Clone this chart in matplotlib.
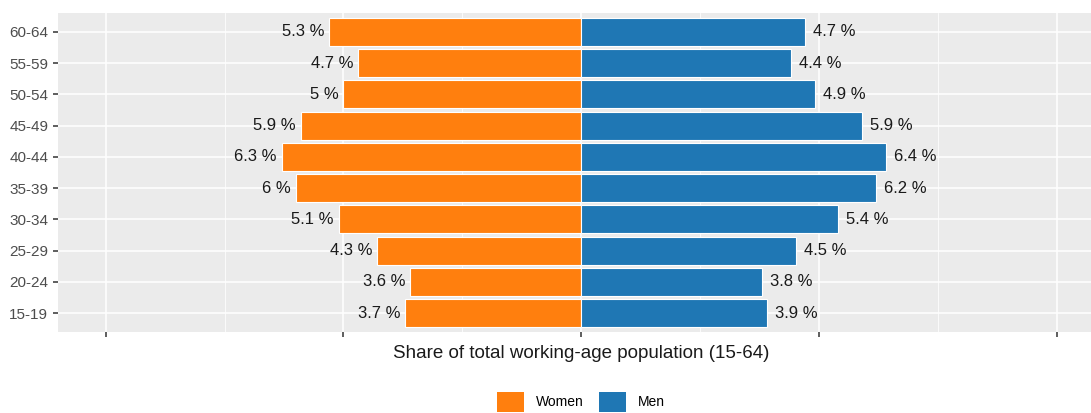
import numpy as np
import matplotlib.pyplot as plt
import matplotlib.transforms as mtransforms

# data
age_groups = ['15-19', '20-24', '25-29', '30-34', '35-39',
              '40-44', '45-49', '50-54', '55-59', '60-64']
women = [3.7, 3.6, 4.3, 5.1, 6.0, 6.3, 5.9, 5.0, 4.7, 5.3]
men = [3.9, 3.8, 4.5, 5.4, 6.2, 6.4, 5.9, 4.9, 4.4, 4.7]

plt.rcParams['font.family'] = ['Liberation Sans', 'DejaVu Sans']

fig = plt.figure(figsize=(10.91, 4.13), dpi=100)
ax = fig.add_axes([58 / 1091, 81 / 413, 1 - 58 / 1091, 319 / 413])
ax.set_facecolor('#EBEBEB')

y = np.arange(len(age_groups))
w = -np.array(women)
m = np.array(men)

ax.barh(y, w, height=0.9, color='#FF7F0E', edgecolor='white', linewidth=0.8,
        label='Women', zorder=3)
ax.barh(y, m, height=0.9, color='#1F77B4', edgecolor='white', linewidth=0.8,
        label='Men', zorder=3)

def fmt(v):
    return ('%g' % v) + ' %'

for yi, v in zip(y, women):
    ax.text(-v - 0.1, yi, fmt(v), ha='right', va='center', fontsize=12,
            color='#1A1A1A', zorder=4)
for yi, v in zip(y, men):
    ax.text(v + 0.17, yi, fmt(v), ha='left', va='center', fontsize=12,
            color='#1A1A1A', zorder=4)

# panel is symmetric (-11, 11) but the picture is cut at the right
ax.set_xlim(-11, 10.71)
ax.set_ylim(-0.6, 9.6)
ax.set_yticks(y)
ax.set_yticklabels(age_groups, fontsize=11, color='#4D4D4D')
ax.set_xticks([-10, -5, 0, 5, 10])
ax.set_xticklabels([])
ax.set_xticks([-7.5, -2.5, 2.5, 7.5], minor=True)
ax.tick_params(axis='both', which='major', length=3.5, width=1.1, color='#333333')
ax.tick_params(axis='x', which='minor', length=0)

ax.grid(True, which='major', color='white', linewidth=1.1, zorder=0)
ax.grid(True, which='minor', axis='x', color='white', linewidth=0.55, zorder=0)
ax.set_axisbelow(True)
for s in ax.spines.values():
    s.set_visible(False)

ax.set_xlabel('Share of total working-age population (15-64)', fontsize=13.5,
              color='#1A1A1A')
blend = mtransforms.blended_transform_factory(ax.transData, ax.transAxes)
ax.xaxis.set_label_coords(0, -0.04, transform=blend)
ax.xaxis.label.set_va('top')

leg = fig.legend(loc='center', bbox_to_anchor=(0.5325, 0.027), ncol=2,
                 frameon=False, fontsize=10, handlelength=1.95, handleheight=1.8,
                 columnspacing=1.15, handletextpad=0.85)
for h in leg.legend_handles:
    h.set_edgecolor('none')

fig.savefig('out.png', dpi=100)
